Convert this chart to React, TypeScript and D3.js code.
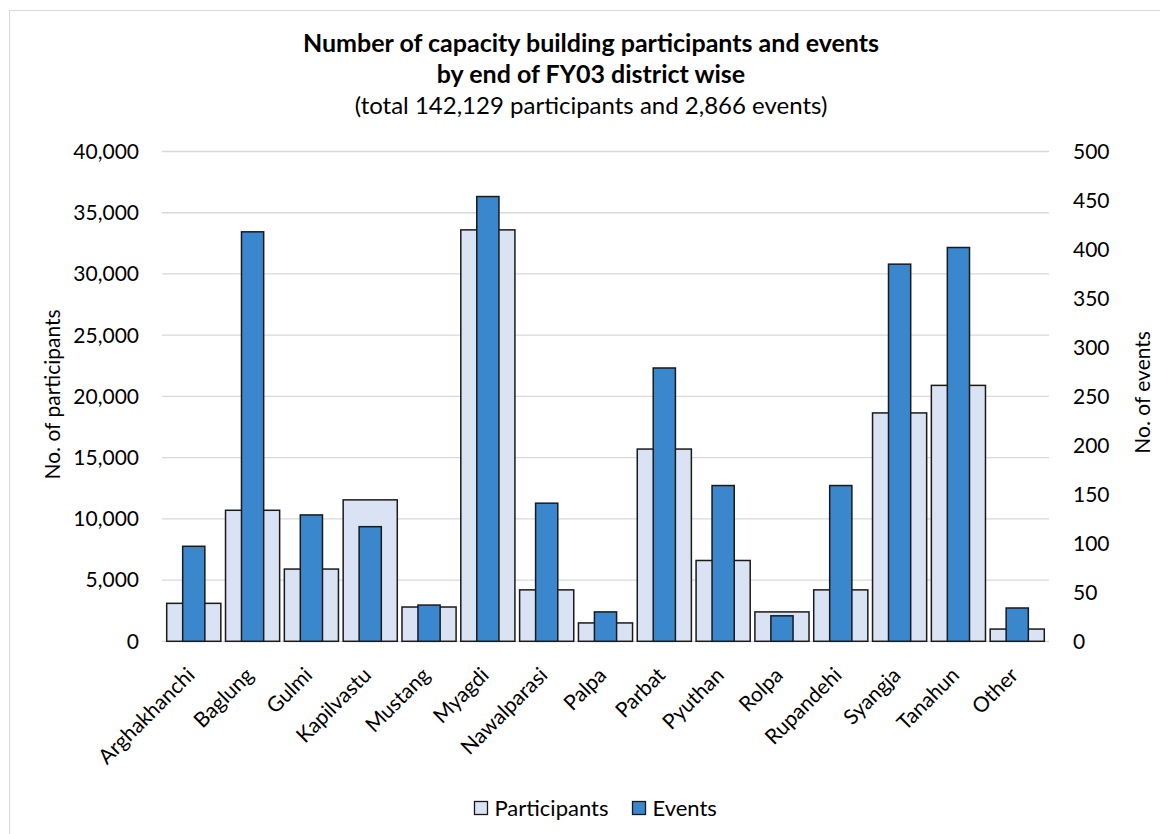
import React, { useEffect, useRef } from 'react';
import * as d3 from 'd3';

const districts = [
  'Arghakhanchi', 'Baglung', 'Gulmi', 'Kapilvastu', 'Mustang', 'Myagdi', 'Nawalparasi',
  'Palpa', 'Parbat', 'Pyuthan', 'Rolpa', 'Rupandehi', 'Syangja', 'Tanahun', 'Other',
];
const participants = [3100, 10700, 5900, 11550, 2800, 33600, 4200, 1500, 15700, 6600, 2400, 4200, 18650, 20900, 1000];
const events = [97, 418, 129, 117, 37, 454, 141, 30, 279, 159, 26, 159, 385, 402, 34];

const leftTicks = [0, 5000, 10000, 15000, 20000, 25000, 30000, 35000, 40000];
const rightTicks = [0, 50, 100, 150, 200, 250, 300, 350, 400, 450, 500];

const W = 1160;
const H = 834;
const FONT = 'Lato, "Open Sans", sans-serif';
const PART_COLOR = '#DAE3F3';
const EVENT_COLOR = '#3A87CD';

export default function App() {
  const svgRef = useRef<SVGSVGElement | null>(null);

  useEffect(() => {
    const svg = d3.select(svgRef.current);
    svg.selectAll('*').remove();

    const margin = { left: 162, right: 1049, top: 151.5, bottom: 641.3 };

    // outer frame
    svg.append('rect')
      .attr('x', 9.5).attr('y', 10.5)
      .attr('width', W + 20).attr('height', H + 20)
      .attr('fill', 'white')
      .attr('stroke', '#d9d9d9');

    const x = d3.scaleBand<string>()
      .domain(districts)
      .range([margin.left, margin.right])
      .padding(0.08);

    const yLeft = d3.scaleLinear().domain([0, 40000]).range([margin.bottom, margin.top]);
    const yRight = d3.scaleLinear().domain([0, 500]).range([margin.bottom, margin.top]);

    // gridlines
    svg.append('g')
      .selectAll('line')
      .data(leftTicks)
      .enter().append('line')
      .attr('x1', margin.left).attr('x2', margin.right)
      .attr('y1', d => yLeft(d)).attr('y2', d => yLeft(d))
      .attr('stroke', '#d9d9d9')
      .attr('stroke-width', 1.3);

    // left tick labels
    const fmt = d3.format(',');
    svg.append('g')
      .selectAll('text')
      .data(leftTicks)
      .enter().append('text')
      .attr('x', 139)
      .attr('y', d => yLeft(d))
      .attr('dy', '0.35em')
      .attr('text-anchor', 'end')
      .style('font-family', FONT)
      .style('font-size', '21px')
      .attr('fill', '#000')
      .text(d => fmt(d));

    // right tick labels
    svg.append('g')
      .selectAll('text')
      .data(rightTicks)
      .enter().append('text')
      .attr('x', 1073)
      .attr('y', d => yRight(d))
      .attr('dy', '0.35em')
      .attr('text-anchor', 'start')
      .style('font-family', FONT)
      .style('font-size', '21px')
      .attr('fill', '#000')
      .text(d => String(d));

    const bw = x.bandwidth();
    const ew = bw * 0.41;

    // participants bars
    svg.append('g')
      .selectAll('rect')
      .data(districts)
      .enter().append('rect')
      .attr('x', d => x(d)!)
      .attr('y', (d, i) => yLeft(participants[i]))
      .attr('width', bw)
      .attr('height', (d, i) => margin.bottom - yLeft(participants[i]))
      .attr('fill', PART_COLOR)
      .attr('stroke', '#1a1a1a')
      .attr('stroke-width', 1.5);

    // events bars (secondary axis, overlaid)
    svg.append('g')
      .selectAll('rect')
      .data(districts)
      .enter().append('rect')
      .attr('x', d => x(d)! + (bw - ew) / 2)
      .attr('y', (d, i) => yRight(events[i]))
      .attr('width', ew)
      .attr('height', (d, i) => margin.bottom - yRight(events[i]))
      .attr('fill', EVENT_COLOR)
      .attr('stroke', '#1a1a1a')
      .attr('stroke-width', 1.5);

    // x labels
    svg.append('g')
      .selectAll('text')
      .data(districts)
      .enter().append('text')
      .attr('transform', d => `translate(${x(d)! + bw / 2 - 3}, ${margin.bottom + 30}) rotate(-45)`)
      .attr('text-anchor', 'end')
      .attr('dy', '0.35em')
      .style('font-family', FONT)
      .style('font-size', '21px')
      .attr('fill', '#000')
      .text(d => d);

    // axis titles
    svg.append('text')
      .attr('transform', `translate(60, ${(margin.top + margin.bottom) / 2 - 2}) rotate(-90)`)
      .attr('text-anchor', 'middle')
      .style('font-family', FONT)
      .style('font-size', '21px')
      .text('No. of participants');

    svg.append('text')
      .attr('transform', `translate(1150, ${(margin.top + margin.bottom) / 2 - 4}) rotate(-90)`)
      .attr('text-anchor', 'middle')
      .style('font-family', FONT)
      .style('font-size', '21px')
      .text('No. of events');

    // title
    const title = svg.append('g').attr('text-anchor', 'middle').style('font-family', FONT);
    title.append('text').attr('x', 591).attr('y', 52)
      .style('font-size', '25px').style('font-weight', 'bold')
      .text('Number of capacity building participants and events');
    title.append('text').attr('x', 591).attr('y', 83)
      .style('font-size', '25px').style('font-weight', 'bold')
      .text('by end of FY03 district wise');
    title.append('text').attr('x', 591).attr('y', 114)
      .style('font-size', '24px')
      .text('(total 142,129 participants and 2,866 events)');

    // legend
    const legend = svg.append('g').style('font-family', FONT).style('font-size', '22px');
    const items = [
      { label: 'Participants', color: PART_COLOR, x: 474.5 },
      { label: 'Events', color: EVENT_COLOR, x: 632.5 },
    ];
    items.forEach(it => {
      legend.append('rect')
        .attr('x', it.x).attr('y', 801.5)
        .attr('width', 13).attr('height', 13)
        .attr('fill', it.color)
        .attr('stroke', '#1a1a1a').attr('stroke-width', 1.3);
      legend.append('text')
        .attr('x', it.x + 20).attr('y', 808)
        .attr('dy', '0.35em')
        .text(it.label);
    });
  }, []);

  return (
    <svg
      ref={svgRef}
      width={W}
      height={H}
      style={{ position: 'absolute', left: 0, top: 0, background: 'white' }}
    />
  );
}
